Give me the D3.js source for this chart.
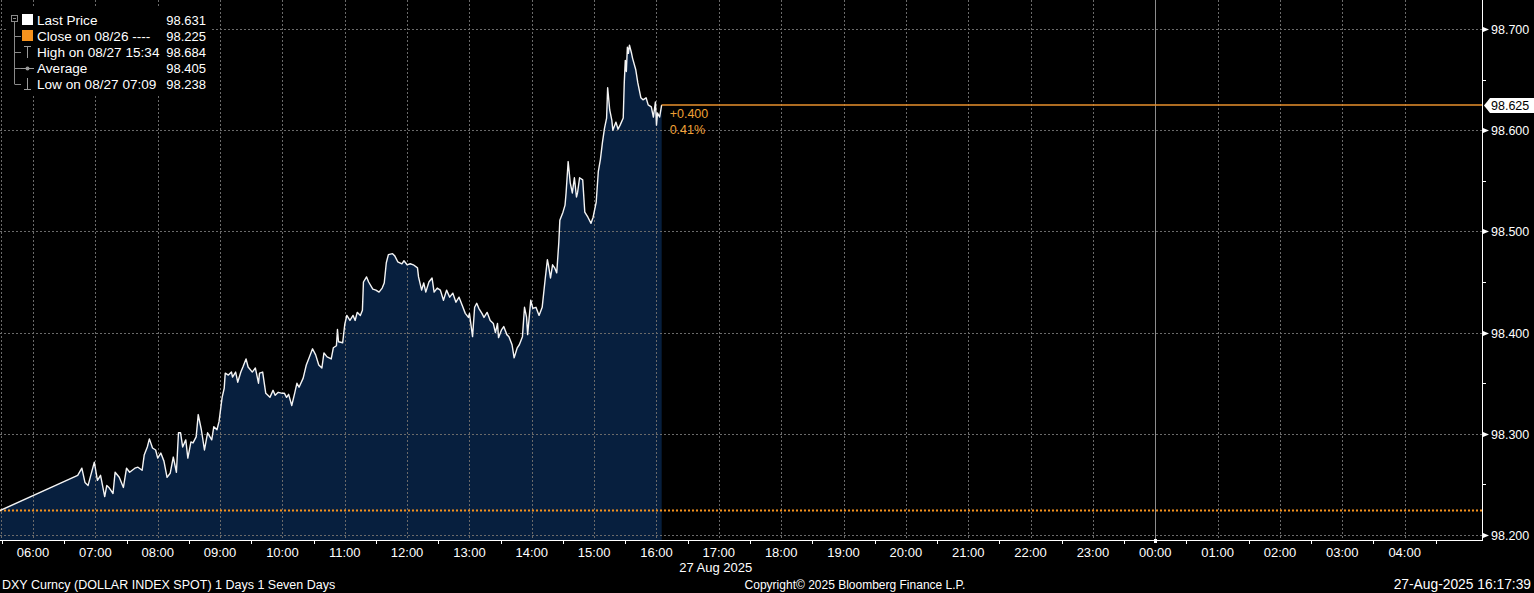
<!DOCTYPE html>
<html><head><meta charset="utf-8">
<script src="https://cdn.jsdelivr.net/npm/d3@7"></script>
<style>
html,body{margin:0;padding:0;background:#000;overflow:hidden}
svg{display:block}
text{font-family:"Liberation Sans",Arial,sans-serif}
</style></head><body>
<svg id="c" width="1534" height="593"></svg>
<script>
// ---- data (27 Aug 2025, DXY intraday) ----
const times = ["05:28","06:43","06:47","06:50","06:53","06:59","07:02","07:05","07:09","07:11","07:13","07:17","07:19","07:23","07:27","07:30","07:33","07:38","07:41","07:45","07:47","07:50","07:52","07:55","07:58","08:00","08:03","08:06","08:09","08:12","08:15","08:18","08:20","08:22","08:24","08:27","08:29","08:32","08:34","08:37","08:39","08:42","08:45","08:48","08:52","08:54","08:57","08:59","09:02","09:04","09:05","09:08","09:11","09:12","09:15","09:17","09:20","09:22","09:25","09:27","09:31","09:34","09:37","09:38","09:41","09:44","09:48","09:51","09:53","09:56","10:00","10:02","10:04","10:06","10:09","10:12","10:14","10:16","10:20","10:23","10:26","10:29","10:32","10:35","10:38","10:40","10:43","10:47","10:49","10:52","10:53","10:54","10:58","11:00","11:02","11:05","11:08","11:10","11:12","11:15","11:17","11:18","11:21","11:23","11:27","11:30","11:33","11:36","11:38","11:40","11:42","11:46","11:48","11:51","11:55","11:57","12:00","12:03","12:06","12:10","12:11","12:14","12:16","12:18","12:21","12:24","12:26","12:29","12:32","12:35","12:38","12:41","12:44","12:47","12:50","12:53","12:56","12:59","13:00","13:03","13:05","13:07","13:09","13:12","13:14","13:17","13:20","13:23","13:25","13:27","13:28","13:31","13:33","13:36","13:38","13:41","13:43","13:46","13:48","13:51","13:53","13:55","13:56","13:59","14:01","14:04","14:07","14:10","14:13","14:15","14:16","14:18","14:20","14:22","14:24","14:26","14:27","14:30","14:32","14:33","14:35","14:37","14:39","14:41","14:43","14:44","14:46","14:49","14:51","14:54","14:57","14:59","15:02","15:04","15:06","15:08","15:10","15:12","15:13","15:15","15:17","15:18","15:21","15:23","15:25","15:28","15:29","15:30","15:31","15:32","15:33","15:34","15:36","15:37","15:40","15:42","15:45","15:47","15:50","15:52","15:55","15:57","15:59","16:00","16:01","16:03","16:05"];
const values = [98.224,98.259,98.266,98.252,98.249,98.272,98.254,98.259,98.238,98.249,98.247,98.241,98.262,98.257,98.247,98.266,98.262,98.266,98.267,98.264,98.279,98.287,98.295,98.286,98.284,98.276,98.281,98.273,98.257,98.261,98.277,98.262,98.301,98.301,98.287,98.294,98.276,98.292,98.291,98.297,98.319,98.304,98.284,98.301,98.294,98.307,98.304,98.312,98.336,98.345,98.360,98.358,98.361,98.356,98.361,98.351,98.361,98.366,98.374,98.366,98.361,98.365,98.350,98.360,98.361,98.340,98.336,98.343,98.338,98.341,98.340,98.340,98.336,98.339,98.328,98.341,98.350,98.346,98.355,98.368,98.376,98.384,98.378,98.368,98.365,98.380,98.376,98.374,98.385,98.387,98.403,98.391,98.390,98.408,98.417,98.412,98.417,98.412,98.420,98.417,98.422,98.450,98.455,98.450,98.443,98.442,98.440,98.444,98.449,98.469,98.477,98.478,98.476,98.470,98.468,98.471,98.467,98.468,98.467,98.464,98.455,98.442,98.449,98.440,98.450,98.454,98.440,98.444,98.442,98.432,98.442,98.435,98.439,98.430,98.435,98.427,98.419,98.415,98.419,98.396,98.425,98.429,98.424,98.419,98.415,98.420,98.412,98.409,98.400,98.409,98.395,98.403,98.406,98.398,98.396,98.388,98.375,98.385,98.388,98.396,98.425,98.415,98.398,98.432,98.424,98.425,98.417,98.425,98.454,98.472,98.467,98.454,98.467,98.464,98.459,98.489,98.511,98.519,98.526,98.538,98.569,98.548,98.538,98.553,98.534,98.538,98.553,98.551,98.519,98.514,98.508,98.514,98.529,98.559,98.571,98.588,98.602,98.612,98.642,98.620,98.610,98.600,98.608,98.601,98.605,98.612,98.647,98.669,98.658,98.682,98.676,98.684,98.676,98.671,98.660,98.647,98.632,98.630,98.632,98.625,98.623,98.613,98.628,98.605,98.617,98.613,98.625];
const prevClose = 98.225;
const yTickValues = [98.2, 98.3, 98.4, 98.5, 98.6, 98.7];
const yMinorValues = [98.25, 98.35, 98.45, 98.55, 98.65];
const legendLabels = ["Last Price", "Close on 08/26 ----", "High on 08/27 15:34", "Average", "Low on 08/27 07:09"];
const legendValues = ["98.631", "98.225", "98.684", "98.405", "98.238"];
const dateLabel = "27 Aug 2025";
const footerLeft = "DXY Curncy (DOLLAR INDEX SPOT) 1 Days 1 Seven Days";
const footerMid = "Copyright\u00A9 2025 Bloomberg Finance L.P.";
const footerRight = "27-Aug-2025 16:17:39";

// ---- layout ----
const W = 1534, H = 593;
const plotR = 1482, plotB = 540;
const parse = d3.timeParse("%Y-%m-%d %H:%M");
const data = times.map((t, i) => ({ t: parse("2025-08-27 " + t), v: values[i] }));
const x = d3.scaleTime()
  .domain([new Date(2025, 7, 27, 5, 28, 14), new Date(2025, 7, 28, 5, 14, 26)])
  .range([0, plotR]);
const y = d3.scaleLinear().domain([98.19506, 98.72866]).range([plotB, 0]);
const ORANGE = "#f7931e";

const svg = d3.select("#c");
svg.append("rect").attr("width", W).attr("height", H).attr("fill", "#000");

// area
svg.append("path").datum(data)
  .attr("fill", "#071f3e")
  .attr("d", d3.area().x(d => x(d.t)).y0(plotB).y1(d => y(d.v)));

// grid
const hours = d3.timeHour.range(new Date(2025, 7, 27, 6), new Date(2025, 7, 28, 4, 30));
const grid = svg.append("g");
grid.selectAll("line.v").data(hours).join("line")
  .attr("x1", d => Math.round(x(d)) + 0.5).attr("x2", d => Math.round(x(d)) + 0.5)
  .attr("y1", 0).attr("y2", plotB)
  .attr("stroke", d => d.getHours() === 0 ? "#8c8c8c" : "#6a6a6a")
  .attr("stroke-dasharray", d => d.getHours() === 0 ? null : "2,2")
  .attr("stroke-width", 1);
grid.append("line").attr("x1", 1.5).attr("x2", 1.5).attr("y1", 0).attr("y2", plotB)
  .attr("stroke", "#6a6a6a").attr("stroke-dasharray", "2,2");
grid.selectAll("line.h").data(yTickValues).join("line")
  .attr("x1", 0).attr("x2", plotR)
  .attr("y1", d => Math.round(y(d)) + 0.5).attr("y2", d => Math.round(y(d)) + 0.5)
  .attr("stroke", "#6a6a6a").attr("stroke-dasharray", "2,2");

// previous close (dotted orange)
svg.append("line").attr("x1", 0).attr("x2", plotR)
  .attr("y1", Math.round(y(prevClose)) + 0.5).attr("y2", Math.round(y(prevClose)) + 0.5)
  .attr("stroke", ORANGE).attr("stroke-width", 2).attr("stroke-dasharray", "2,2");

// price line
svg.append("path").datum(data)
  .attr("fill", "none").attr("stroke", "#f4f4f4").attr("stroke-width", 1.4)
  .attr("stroke-linejoin", "round")
  .attr("d", d3.line().x(d => x(d.t)).y(d => y(d.v)));

// last price extension (orange)
const last = data[data.length - 1];
svg.append("line").attr("x1", x(last.t)).attr("x2", plotR)
  .attr("y1", Math.round(y(last.v))).attr("y2", Math.round(y(last.v)))
  .attr("stroke", "#e8902c").attr("stroke-width", 1.6);
const chg = last.v - prevClose;
svg.append("text").attr("x", x(last.t) + 8).attr("y", y(last.v) + 13)
  .attr("fill", "#f0a035").attr("font-size", 12.5).text((chg >= 0 ? "+" : "") + chg.toFixed(3));
svg.append("text").attr("x", x(last.t) + 8).attr("y", y(last.v) + 29)
  .attr("fill", "#f0a035").attr("font-size", 12.5).text((chg / prevClose * 100).toFixed(2) + "%");

// axes lines
svg.append("line").attr("x1", plotR + 0.5).attr("x2", plotR + 0.5).attr("y1", 0).attr("y2", plotB + 0.5)
  .attr("stroke", "#fff");
svg.append("line").attr("x1", 0).attr("x2", plotR + 1).attr("y1", plotB + 0.5).attr("y2", plotB + 0.5)
  .attr("stroke", "#fff");

// y axis labels
const ya = svg.append("g");
yTickValues.forEach(v => {
  const yy = Math.round(y(v)) + 0.5;
  ya.append("path").attr("d", `M${plotR + 1},${yy - 2.5}L${plotR + 7},${yy}L${plotR + 1},${yy + 2.5}Z`).attr("fill", "#fff");
  ya.append("text").attr("x", plotR + 9).attr("y", yy + 4.5).attr("fill", "#fff")
    .attr("font-size", 12.5).text(v.toFixed(3));
});
yMinorValues.forEach(v => {
  const yy = Math.round(y(v)) + 0.5;
  ya.append("line").attr("x1", plotR).attr("x2", plotR + 4).attr("y1", yy).attr("y2", yy).attr("stroke", "#fff");
});
// last price tag
{
  const yy = Math.round(y(last.v)) + 0.5;
  ya.append("path").attr("d", `M${plotR + 2},${yy}L${plotR + 8},${yy - 7.5}L${W},${yy - 7.5}L${W},${yy + 7.5}L${plotR + 8},${yy + 7.5}Z`)
    .attr("fill", "#fff");
  ya.append("text").attr("x", plotR + 9).attr("y", yy + 4.5).attr("fill", "#000")
    .attr("font-size", 12.5).text(last.v.toFixed(3));
}

// x axis
const xa = svg.append("g");
const halfHours = d3.timeMinute.every(30).range(new Date(2025, 7, 27, 5, 29), new Date(2025, 7, 28, 5, 0))
  .filter(d => d.getMinutes() === 30);
xa.selectAll("line.t").data(halfHours).join("line")
  .attr("x1", d => Math.round(x(d)) + 0.5).attr("x2", d => Math.round(x(d)) + 0.5)
  .attr("y1", plotB).attr("y2", plotB + 4).attr("stroke", "#fff");
const fmt = d3.timeFormat("%H:%M");
xa.selectAll("text.h").data(hours).join("text")
  .attr("x", d => x(d)).attr("y", 557).attr("text-anchor", "middle")
  .attr("fill", "#fff").attr("font-size", 13).text(d => fmt(d));
const midnight = new Date(2025, 7, 28, 0, 0);
xa.append("rect").attr("x", Math.round(x(midnight)) - 1).attr("y", plotB - 1).attr("width", 3).attr("height", 4).attr("fill", "#fff");
xa.append("text").attr("x", x(new Date(2025, 7, 27, 16, 57))).attr("y", 572).attr("text-anchor", "middle")
  .attr("fill", "#fff").attr("font-size", 13).text(dateLabel);

// footer
svg.append("text").attr("x", 2).attr("y", 589).attr("fill", "#fff").attr("font-size", 12.5).text(footerLeft);
svg.append("text").attr("x", 855).attr("y", 589).attr("text-anchor", "middle").attr("fill", "#fff").attr("font-size", 12).text(footerMid);
svg.append("text").attr("x", 1531).attr("y", 589).attr("text-anchor", "end").attr("fill", "#fff").attr("font-size", 13.8).text(footerRight);

// legend
const lg = svg.append("g");
lg.append("rect").attr("x", 6).attr("y", 6).attr("width", 206).attr("height", 89).attr("fill", "#000");
const rowY = i => 20 + i * 16;
// tree
lg.append("rect").attr("x", 11.5).attr("y", 15.5).attr("width", 6).attr("height", 6).attr("fill", "none").attr("stroke", "#8a8a8a");
lg.append("line").attr("x1", 13).attr("x2", 16).attr("y1", 18.5).attr("y2", 18.5).attr("stroke", "#8a8a8a");
lg.append("line").attr("x1", 14.5).attr("x2", 14.5).attr("y1", 22).attr("y2", rowY(4)).attr("stroke", "#8a8a8a");
[1, 2, 3, 4].forEach(i => lg.append("line").attr("x1", 14.5).attr("x2", 21).attr("y1", rowY(i) + 0.5).attr("y2", rowY(i) + 0.5).attr("stroke", "#8a8a8a"));
// icons
lg.append("rect").attr("x", 22).attr("y", rowY(0) - 6).attr("width", 11).attr("height", 11).attr("fill", "#fff");
lg.append("rect").attr("x", 22).attr("y", rowY(1) - 6).attr("width", 11).attr("height", 11).attr("fill", ORANGE);
const ic = "#9a9a9a";
lg.append("line").attr("x1", 27.5).attr("x2", 27.5).attr("y1", rowY(2) - 6).attr("y2", rowY(2) + 6).attr("stroke", ic);
lg.append("line").attr("x1", 24).attr("x2", 31).attr("y1", rowY(2) - 5.5).attr("y2", rowY(2) - 5.5).attr("stroke", ic);
lg.append("line").attr("x1", 21).attr("x2", 34).attr("y1", rowY(3) + 0.5).attr("y2", rowY(3) + 0.5).attr("stroke", ic);
lg.append("circle").attr("cx", 27.5).attr("cy", rowY(3) + 0.5).attr("r", 2).attr("fill", ic);
lg.append("line").attr("x1", 27.5).attr("x2", 27.5).attr("y1", rowY(4) - 6).attr("y2", rowY(4) + 6).attr("stroke", ic);
lg.append("line").attr("x1", 24).attr("x2", 31).attr("y1", rowY(4) + 5.5).attr("y2", rowY(4) + 5.5).attr("stroke", ic);
legendLabels.forEach((l, i) => {
  lg.append("text").attr("x", 37).attr("y", rowY(i) + 5).attr("fill", "#fff").attr("font-size", 13.6).text(l);
  lg.append("text").attr("x", 206).attr("y", rowY(i) + 5).attr("text-anchor", "end").attr("fill", "#fff").attr("font-size", 13).text(legendValues[i]);
});
</script>
</body></html>
